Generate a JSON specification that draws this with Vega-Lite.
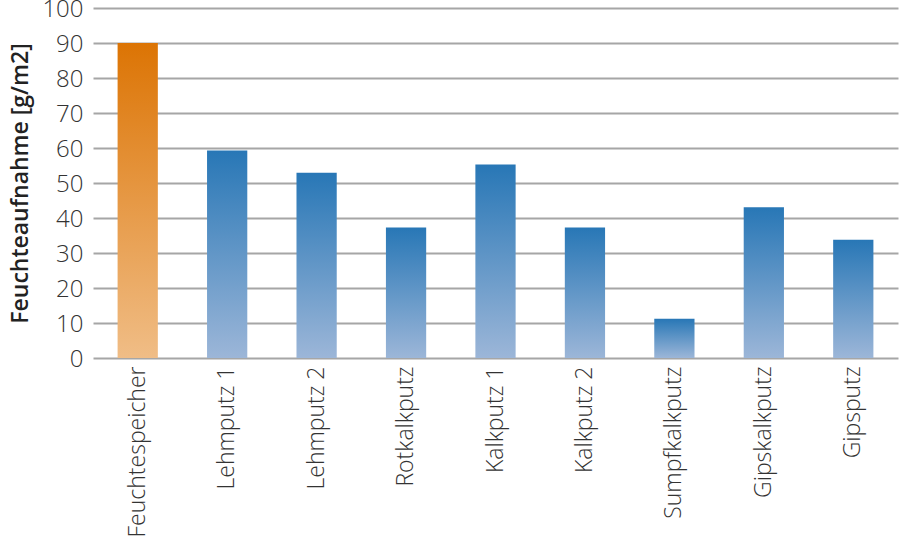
{
  "$schema": "https://vega.github.io/schema/vega-lite/v6.json",
  "autosize": {"type": "none"},
  "width": 805,
  "height": 350,
  "padding": {"left": 93, "top": 8, "right": 2, "bottom": 191},
  "background": "white",
  "config": {
    "view": {"stroke": null},
    "font": "Open Sans",
    "axis": {"labelFont": "Open Sans", "titleFont": "Open Sans"}
  },
  "data": {
    "values": [
      {"material": "Feuchtespeicher", "wert": 90, "gruppe": "orange"},
      {"material": "Lehmputz 1", "wert": 59.3, "gruppe": "blau"},
      {"material": "Lehmputz 2", "wert": 52.9, "gruppe": "blau"},
      {"material": "Rotkalkputz", "wert": 37.3, "gruppe": "blau"},
      {"material": "Kalkputz 1", "wert": 55.3, "gruppe": "blau"},
      {"material": "Kalkputz 2", "wert": 37.3, "gruppe": "blau"},
      {"material": "Sumpfkalkputz", "wert": 11.2, "gruppe": "blau"},
      {"material": "Gipskalkputz", "wert": 43.1, "gruppe": "blau"},
      {"material": "Gipsputz", "wert": 33.8, "gruppe": "blau"}
    ]
  },
  "encoding": {
    "x": {
      "field": "material",
      "type": "nominal",
      "sort": null,
      "scale": {"paddingInner": 0.55, "paddingOuter": 0.275},
      "axis": {
        "title": null,
        "labelAngle": -90,
        "labelAlign": "right",
        "labelBaseline": "middle",
        "labelFontSize": 23,
        "labelFontWeight": 300,
        "labelColor": "#333333",
        "labelPadding": 8,
        "ticks": false,
        "domain": false,
        "grid": false
      }
    },
    "y": {
      "field": "wert",
      "type": "quantitative",
      "scale": {"domain": [0, 100], "nice": false},
      "axis": {
        "title": "Feuchteaufnahme [g/m2]",
        "titleFontSize": 23,
        "titleFontWeight": 600,
        "titleColor": "#222222",
        "titlePadding": 9,
        "values": [0, 10, 20, 30, 40, 50, 60, 70, 80, 90, 100],
        "labelFontSize": 24,
        "labelFontWeight": 300,
        "labelColor": "#333333",
        "labelPadding": 10,
        "labelOffset": 1,
        "ticks": false,
        "domain": false,
        "grid": true,
        "gridColor": "#a6a6a6",
        "gridWidth": 1.8
      }
    }
  },
  "layer": [
    {
      "transform": [{"filter": "datum.gruppe === 'orange'"}],
      "mark": {
        "type": "bar",
        "color": {
          "gradient": "linear",
          "x1": 0, "y1": 0, "x2": 0, "y2": 1,
          "stops": [
            {"offset": 0, "color": "#dc7404"},
            {"offset": 1, "color": "#f0bd86"}
          ]
        }
      }
    },
    {
      "transform": [{"filter": "datum.gruppe === 'blau'"}],
      "mark": {
        "type": "bar",
        "color": {
          "gradient": "linear",
          "x1": 0, "y1": 0, "x2": 0, "y2": 1,
          "stops": [
            {"offset": 0, "color": "#2877b6"},
            {"offset": 1, "color": "#9cb6d8"}
          ]
        }
      }
    }
  ]
}
